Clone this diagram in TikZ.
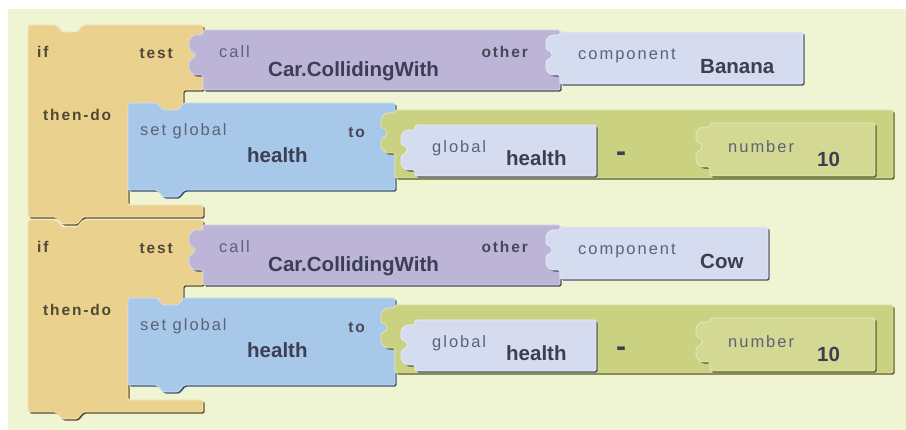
\documentclass[tikz,border=0pt]{standalone}
\usepackage{fontspec}
\newfontfamily\blkfont[LetterSpace=12]{Liberation Sans}
\newfontfamily\valfont{Liberation Sans}
\definecolor{bgcream}{HTML}{EFF4D3}
\definecolor{iftan}{HTML}{EAD28E}
\definecolor{ifdark}{HTML}{5E4E22}
\definecolor{callpurple}{HTML}{BCB5D8}
\definecolor{calldark}{HTML}{4A4660}
\definecolor{complav}{HTML}{D5DCEF}
\definecolor{compdark}{HTML}{4A5068}
\definecolor{setblue}{HTML}{A8C8E9}
\definecolor{setdark}{HTML}{3C5470}
\definecolor{mathgreen}{HTML}{CAD180}
\definecolor{numgreen}{HTML}{D3D992}
\definecolor{greendark}{HTML}{545A1E}
\definecolor{valtext}{HTML}{3C3F52}
\definecolor{lbltext}{HTML}{5C6278}
\definecolor{keybrown}{HTML}{4F4834}
\definecolor{keygray}{HTML}{45475A}
\tikzset{
  block/.style 2 args={fill=#1, draw=#1!55!white, line width=0.8pt, rounded corners=1.5pt,
    preaction={fill=#2, transform canvas={shift={(1.6pt,-1.6pt)}}}},
  plug/.style={insert path={-- ++(-9,0) -- ++(-5,-5) -- ++(0,-9) -- ++(6,-4) -- ++(0,-4) -- ++(-6,-4) -- ++(0,-9) -- ++(5,-5) -- ++(9,0)}},
  dip/.style={insert path={-- ++(6,7) -- ++(15,0) -- ++(6,-7)}},
  nub/.style={insert path={-- ++(-6,7) -- ++(-15,0) -- ++(-6,-7)}},
  lbl/.style={font=\blkfont\fontsize{16.5}{18}\selectfont, text=lbltext, inner sep=0pt},
  key/.style={font=\blkfont\bfseries\fontsize{15.5}{18}\selectfont, text=#1, inner sep=0pt},
  val/.style={font=\valfont\bfseries\fontsize{20.5}{24}\selectfont, text=valtext, inner sep=0pt}
}
\begin{document}
\begin{tikzpicture}[x=1pt,y=-1pt]
  \useasboundingbox (0,0) rectangle (906,430);
  \fill[white] (0,0) rectangle (906,430);
  \fill[bgcream] (8,9) rectangle (906,430);
  \foreach \oy/\obj/\objw [count=\g] in {0/Banana/803, 195/Cow/768}{
    \begin{scope}[shift={(0,\oy)}]
      % if / then-do
      \path[block={iftan}{ifdark}] (28,25) -- (56,25) [dip] -- (203,25) -- (203,90) -- (183,90)
        -- (183,113) -- (128,113) -- (128,205) -- (203,205) -- (203,217) -- (83,217) [nub] -- (28,217) -- cycle;
      % call + component
      \path[block={callpurple}{calldark}] (203,30) -- (560,30) -- (560,90) -- (203,90) -- (203,75) [plug] -- cycle;
      \path[block={complav}{compdark}] (560,32) -- (\objw,32) -- (\objw,84) -- (560,84) -- (560,75) [plug] -- cycle;
      % set global
      \path[block={setblue}{setdark}] (128,103) -- (157,103) [dip] -- (395,103) -- (395,190) -- (184,190) [nub] -- (128,190) -- cycle;
      % minus
      \path[block={mathgreen}{greendark}] (395,110) -- (893,110) -- (893,178) -- (395,178) -- (395,153) [plug] -- cycle;
      \path[block={complav}{compdark}] (415,125) -- (596,125) -- (596,176) -- (415,176) -- (415,170) [plug] -- cycle;
      \path[block={numgreen}{greendark}] (710,123) -- (875,123) -- (875,176) -- (710,176) -- (710,167) [plug] -- cycle;
      % texts
      \node[key=keybrown, anchor=base west] (if\g) at (37,58) {if};
      \node[key=keybrown, anchor=base east] (test\g) at (173,59) {test};
      \node[lbl, anchor=base west] (call\g) at (219,58) {call};
      \node[val, anchor=base west] (proc\g) at (268,77) {Car.CollidingWith};
      \node[key=keygray, anchor=base east] (other\g) at (528,58) {other};
      \node[lbl, anchor=base west] (comp\g) at (578,60) {component};
      \node[val, anchor=base west] (obj\g) at (700,74) {\obj};
      \node[key=keybrown, anchor=base west] (then\g) at (43,121) {then-do};
      \node[lbl, anchor=base west] (set\g) at (140,136) {set global};
      \node[val, anchor=base west] (var\g) at (247,163) {health};
      \node[key=keygray, anchor=base east] (to\g) at (365,138) {to};
      \node[lbl, anchor=base west] (glob\g) at (432,153) {global};
      \node[val, anchor=base west] (gvar\g) at (506,166) {health};
      \node[val, font=\valfont\bfseries\fontsize{30}{30}\selectfont, anchor=base] (minus\g) at (621,162) {-};
      \node[lbl, anchor=base west] (num\g) at (728,153) {number};
      \node[val, anchor=base west] (ten\g) at (817,167) {10};
    \end{scope}
  }
\end{tikzpicture}
\end{document}
